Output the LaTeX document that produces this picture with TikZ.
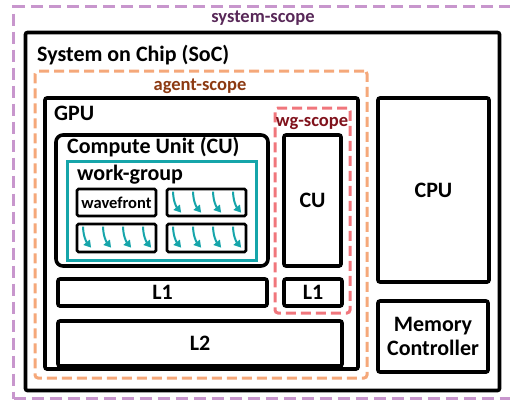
\documentclass[tikz,border=0pt]{standalone}
\usepackage{fontspec}
\setmainfont{Carlito}
\usetikzlibrary{arrows.meta}

\definecolor{sysdash}{RGB}{200,150,205}
\definecolor{systext}{RGB}{88,40,88}
\definecolor{agentdash}{RGB}{245,168,122}
\definecolor{agenttext}{RGB}{140,58,18}
\definecolor{wgdash}{RGB}{240,118,124}
\definecolor{wgtext}{RGB}{128,18,28}
\definecolor{wfteal}{RGB}{22,165,170}

% box from corner (x1,y1) to corner (x2,y2), in pixel-like units
\newcommand\pbox[7]{%
  \node[#6, minimum width={(#4-#2)*1pt}, minimum height={(#5-#3)*1pt}]
    (#1) at ({(#2+#4)/2},{(#3+#5)/2}) {#7};}

% four curved thread arrows inside a wavefront box
\newcommand\threads[1]{%
  \foreach \k in {0,1,2,3}{
    \draw[thread] ([xshift={(7.5+\k*20)*1pt}, yshift=-4pt]#1.north west)
      .. controls +(0,9) and +(-5,-6) .. +(8,21);
  }}

\tikzset{
  blk/.style={draw=black, line width=3.6pt, rounded corners=2pt, inner sep=0pt,
              font=\bfseries\fontsize{22}{24}\selectfont, align=center},
  blkthin/.style={blk, line width=2.8pt, rounded corners=1.5pt},
  cubox/.style={blk, rounded corners=7pt},
  wgbox/.style={draw=wfteal, line width=3pt, inner sep=0pt},
  sysscope/.style={draw=sysdash, line width=3.6pt, dash pattern=on 12pt off 6pt, inner sep=0pt},
  agentscope/.style={draw=agentdash, line width=3pt, dash pattern=on 10pt off 5pt, rounded corners=3pt, inner sep=0pt},
  wgscope/.style={draw=wgdash, line width=3pt, dash pattern=on 10pt off 5pt, rounded corners=3pt, inner sep=0pt},
  title/.style={font=\bfseries\fontsize{22}{24}\selectfont, inner sep=0pt},
  scopelabel/.style={font=\bfseries\fontsize{18.5}{20}\selectfont, inner sep=0pt},
  thread/.style={draw=wfteal, line width=2pt, -{Triangle[length=7pt,width=8pt]}},
}

\begin{document}
\begin{tikzpicture}[x=1pt, y=-1pt]
  \useasboundingbox (0,0) rectangle (510,400);

  % scopes and hardware blocks
  \pbox{sys}{13.5}{6.5}{525}{398.5}{sysscope}{}
  \pbox{soc}{25.5}{32.5}{499.5}{390.5}{blk}{}
  \pbox{agent}{35}{71}{367}{378}{agentscope}{}
  \pbox{gpu}{45}{98}{358}{369}{blk}{}
  \pbox{cu}{56}{135}{268}{266}{cubox}{}
  \pbox{wg}{67}{161}{256}{260}{wgbox}{}
  \pbox{wf1}{77}{189}{156}{216}{blkthin}{\fontsize{16.5}{18}\selectfont wavefront}
  \pbox{wf2}{167}{189}{246}{216}{blkthin}{}
  \pbox{wf3}{77}{224}{156}{252}{blkthin}{}
  \pbox{wf4}{167}{224}{246}{252}{blkthin}{}
  \pbox{wgs}{275}{108}{350}{313}{wgscope}{}
  \pbox{cu2}{284}{135}{341}{266}{blk}{CU}
  \pbox{l1a}{58}{279}{267}{306}{blk}{L1}
  \pbox{l1b}{284}{279}{342}{306}{blk}{L1}
  \pbox{l2}{58}{321}{342}{366}{blk}{L2}
  \pbox{cpu}{378}{98}{489}{282}{blk}{CPU}
  \pbox{mem}{378}{301}{488}{372}{blk}{Memory\\Controller}

  % labels
  \node[scopelabel, text=systext] (syslbl) at (263,18) {system-scope};
  \node[title, anchor=west] (soclbl) at (37,55) {System on Chip (SoC)};
  \node[scopelabel, text=agenttext] (agentlbl) at (200,86) {agent-scope};
  \node[title, anchor=west] (gpulbl) at (54,113) {GPU};
  \node[scopelabel, text=wgtext] (wglbl) at (312,123) {wg-scope};
  \node[title, anchor=west] (culbl) at (67,147) {Compute Unit (CU)};
  \node[title, anchor=west] (wglbl2) at (77,175) {work-group};

  % threads
  \threads{wf2}
  \threads{wf3}
  \threads{wf4}
\end{tikzpicture}
\end{document}
